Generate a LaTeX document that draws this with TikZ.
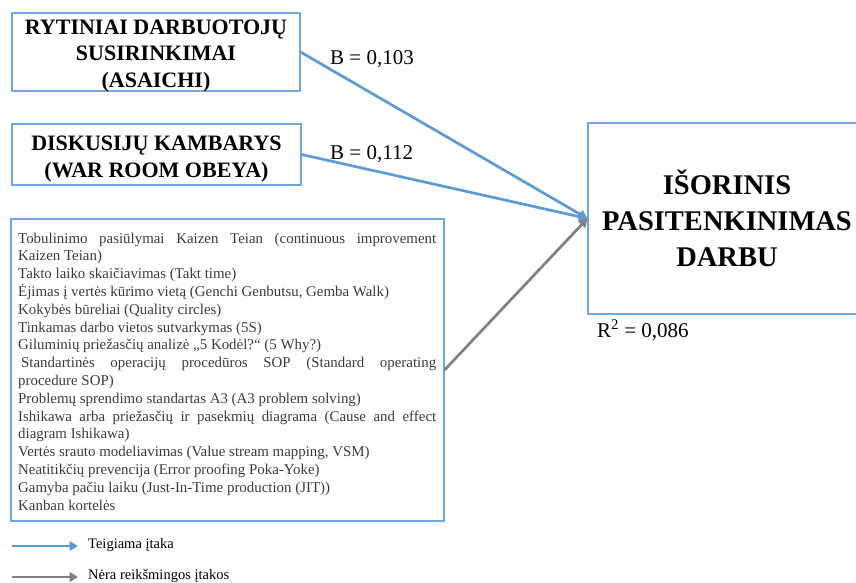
\documentclass[tikz,border=0pt]{standalone}
\usepackage{fontspec}
\setmainfont{Liberation Serif}
\usetikzlibrary{arrows.meta}
\definecolor{effblue}{HTML}{5B9BD5}
\definecolor{frameblue}{HTML}{6FA8DC}
\definecolor{effgray}{HTML}{808080}
\definecolor{listtext}{HTML}{3A3A3A}
\tikzset{
  frame/.style={draw=frameblue, line width=1.1pt, inner sep=0pt},
  titletext/.style={align=center, inner sep=0pt, font=\fontsize{22}{26.5}\selectfont\bfseries},
  listtxt/.style={inner sep=0pt, text width=418pt, align=justify,
    font=\fontsize{14.9}{17.8}\selectfont\color{listtext}},
  outbox/.style={draw=frameblue, line width=1.1pt, align=center, inner sep=0pt,
    font=\fontsize{28.5}{36}\selectfont\bfseries},
  posarrow/.style={draw=effblue, line width=2.7pt, -{Triangle[length=8.5pt,width=9.5pt]}},
  nsarrow/.style={draw=effgray, line width=2.7pt, -{Triangle[length=8.5pt,width=9.5pt]}},
  coef/.style={anchor=west, inner sep=0pt, font=\fontsize{21}{25}\selectfont},
  legendtext/.style={anchor=west, inner sep=0pt, font=\fontsize{14.5}{17}\selectfont}
}
\begin{document}
\begin{tikzpicture}[x=1pt, y=-1pt]
\useasboundingbox (0,0) rectangle (856,583);
\clip (0,0) rectangle (856,583);

% predictor boxes
\node[frame, minimum width=288pt, minimum height=78pt] (r1) at (156,52) {};
\node[titletext] (r1t) at ([yshift=-4pt]r1.center)
  {RYTINIAI DARBUOTOJŲ\\SUSIRINKIMAI\\(ASAICHI)};
\node[frame, minimum width=289pt, minimum height=61pt] (r2) at (156.5,154.5) {};
\node[titletext] (r2t) at ([yshift=-4.5pt]r2.center)
  {DISKUSIJŲ KAMBARYS\\(WAR ROOM OBEYA)};

% list of lean tools: frame and text
\node[frame, minimum width=433pt, minimum height=302pt] (r3) at (227.5,370) {};
\node[listtxt, anchor=north west] (r3t) at (18,232.5) {%
Tobulinimo pasiūlymai Kaizen Teian (continuous improvement\linebreak Kaizen Teian)\par
Takto laiko skaičiavimas (Takt time)\par
Ėjimas į vertės kūrimo vietą (Genchi Genbutsu, Gemba Walk)\par
Kokybės būreliai (Quality circles)\par
Tinkamas darbo vietos sutvarkymas (5S)\par
Giluminių priežasčių analizė „5 Kodėl?“ (5 Why?)\par
\hspace{3pt}Standartinės operacijų procedūros SOP (Standard operating\linebreak procedure SOP)\par
Problemų sprendimo standartas A3 (A3 problem solving)\par
Ishikawa arba priežasčių ir pasekmių diagrama (Cause and effect\linebreak diagram Ishikawa)\par
Vertės srauto modeliavimas (Value stream mapping, VSM)\par
Neatitikčių prevencija (Error proofing Poka-Yoke)\par
Gamyba pačiu laiku (Just-In-Time production (JIT))\par
Kanban kortelės};

% outcome box
\node[outbox, minimum width=278pt, minimum height=191pt] (out) at (727,218.5)
  {IŠORINIS\\PASITENKINIMAS\\DARBU};

% effects
\draw[posarrow] (r1.east) -- (out.west);
\draw[posarrow] (r2.east) -- (out.west);
\draw[nsarrow] (r3.east) -- (out.west);

% coefficients
\node[coef] (b1) at (330,59) {B = 0,103};
\node[coef] (b2) at (330,154) {B = 0,112};
\node[coef, anchor=north west] (rsq) at (597,320) {R\textsuperscript{2} = 0,086};

% legend
\coordinate (la1) at (12,546);
\coordinate (lb1) at (78,546);
\coordinate (la2) at (12,577);
\coordinate (lb2) at (78,577);
\draw[posarrow] (la1) -- (lb1);
\draw[nsarrow] (la2) -- (lb2);
\node[legendtext] (lt1) at (88,545) {Teigiama įtaka};
\node[legendtext] (lt2) at (88,576) {Nėra reikšmingos įtakos};
\end{tikzpicture}
\end{document}
